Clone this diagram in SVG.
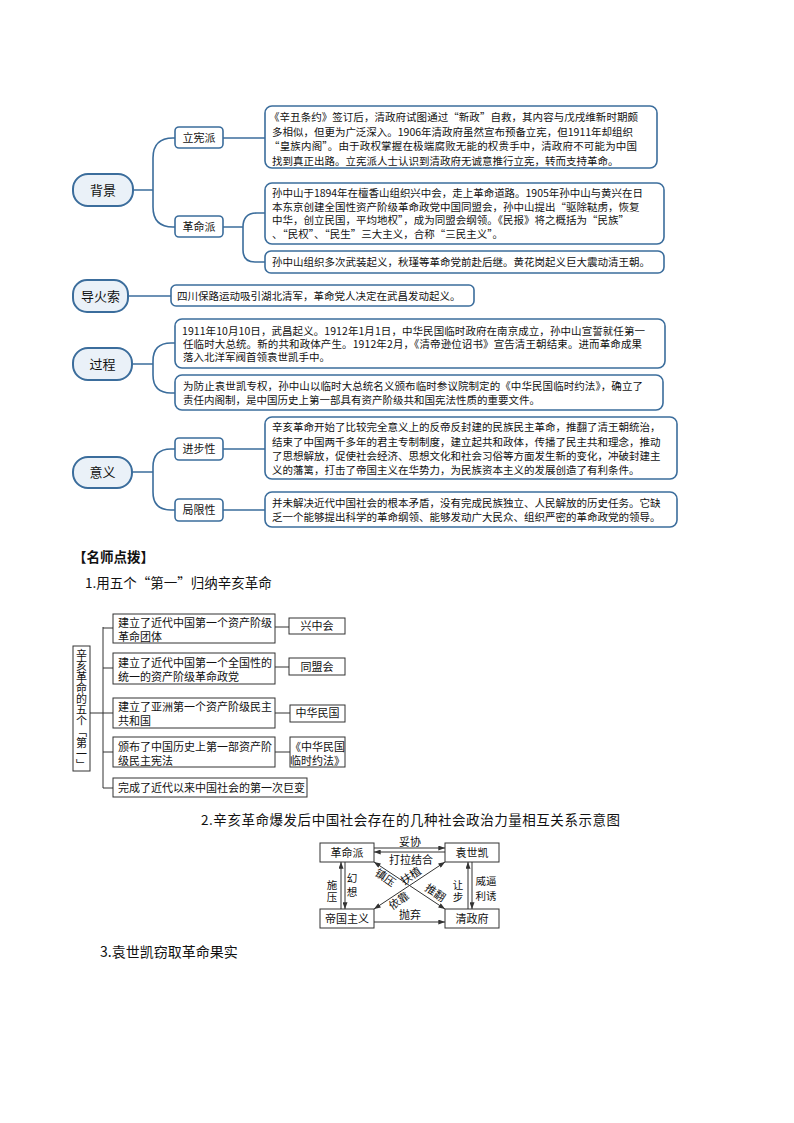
<svg xmlns="http://www.w3.org/2000/svg" width="794" height="1123" viewBox="0 0 794 1123">
<defs>
<marker id="ah" viewBox="0 0 8 6" refX="8" refY="3" markerWidth="7" markerHeight="5" markerUnits="userSpaceOnUse" orient="auto-start-reverse"><path d="M0,0 L8,3 L0,6 z" fill="#333"/></marker>
</defs>
<style>
.mm{font-family:"Noto Sans CJK SC","Microsoft YaHei",sans-serif;fill:#111}
.t{font-size:10.5px}
.nd{font-size:13px;text-anchor:middle}
.sb{font-size:11px;text-anchor:middle}
.node{fill:#eaf1f8;stroke:#3b6d9c;stroke-width:2}
.box{fill:#fff;stroke:#3b6d9c;stroke-width:1.6}
.con{fill:none;stroke:#3b6d9c;stroke-width:1.6}
.ff{font-family:"Noto Sans CJK SC",sans-serif;font-size:11px;fill:#111}
.fc{text-anchor:middle}
.vs{font-size:10.5px}
.vt{writing-mode:vertical-rl}
.fb{fill:#fff;stroke:#333;stroke-width:1}
.fl{fill:none;stroke:#333;stroke-width:1}
.rl{fill:none;stroke:#333;stroke-width:1;marker-end:url(#ah)}
.rb{fill:none;stroke:#333;stroke-width:1;marker-end:url(#ah);marker-start:url(#ah)}
.hd{font-family:"Noto Sans CJK SC",sans-serif;fill:#111}
</style>
<rect width="794" height="1123" fill="#fff"/>

<g id="connectors">
  <path class="con" d="M133,190 H153 M153,190 V158 Q153,138 173,138 H175 M153,190 V207 Q153,227 173,227 H175"/>
  <path class="con" d="M223,138 H265"/>
  <path class="con" d="M223,227 H243 M243,227 Q243,213 257,213 H265 M243,227 V250 Q243,262 255,262 H265"/>
  <path class="con" d="M128,296 H171"/>
  <path class="con" d="M132,364 H153 M153,364 V361 Q153,343 171,343 H175 M153,364 V375 Q153,393 171,393 H175"/>
  <path class="con" d="M132,472 H153 M153,472 V467 Q153,449 171,449 H175 M153,472 V492 Q153,510 171,510 H175"/>
  <path class="con" d="M223,449 H265 M223,510 H265"/>
  <path class="fl" d="M90,713 H103 M103,627 V788 M103,628 H113 M103,668 H113 M103,713 H113 M103,752 H113 M103,788 H113"/>
  <path class="fl" d="M275,627 H289 M275,667 H289 M275,713 H290 M275,752 H290"/>
  <path class="rl" d="M374,848 H445"/>
  <path class="rl" d="M445,852 H374"/>
  <path class="rl" d="M341,909 V862"/>
  <path class="rl" d="M345,862 V909"/>
  <path class="rl" d="M468,909 V862"/>
  <path class="rl" d="M472,862 V909"/>
  <path class="rb" d="M374,862 L445,909"/>
  <path class="rb" d="M374,909 L445,862"/>
  <path class="rl" d="M374,922 H445"/>
</g>

<g id="bg">
  <rect class="node" x="73" y="174" width="60" height="32" rx="15"/>
  <text class="mm nd" x="103" y="194.5">背景</text>
</g>
<g id="lxp">
  <rect class="box" x="175" y="127" width="48" height="21" rx="4"/>
  <text class="mm sb" x="199" y="142">立宪派</text>
</g>
<g id="gmp">
  <rect class="box" x="175" y="216" width="48" height="21" rx="4"/>
  <text class="mm sb" x="199" y="231">革命派</text>
</g>
<g id="box1">
  <rect class="box" x="265" y="106" width="392" height="62" rx="7"/>
  <text class="mm t" x="269" y="121" textLength="369">《辛丑条约》签订后，清政府试图通过“新政”自救，其内容与戊戌维新时期颇</text>
  <text class="mm t" x="272" y="135.5" textLength="361">多相似，但更为广泛深入。1906年清政府虽然宣布预备立宪，但1911年却组织</text>
  <text class="mm t" x="269" y="150" textLength="368">“皇族内阁”。由于政权掌握在极端腐败无能的权贵手中，清政府不可能为中国</text>
  <text class="mm t" x="272" y="164.5">找到真正出路。立宪派人士认识到清政府无诚意推行立宪，转而支持革命。</text>
</g>
<g id="box2">
  <rect class="box" x="265" y="183" width="399" height="61" rx="7"/>
  <text class="mm t" x="272" y="197" textLength="371">孙中山于1894年在檀香山组织兴中会，走上革命道路。1905年孙中山与黄兴在日</text>
  <text class="mm t" x="272" y="210.5">本东京创建全国性资产阶级革命政党中国同盟会，孙中山提出“驱除鞑虏，恢复</text>
  <text class="mm t" x="272" y="224">中华，创立民国，平均地权”，成为同盟会纲领。《民报》将之概括为“民族”</text>
  <text class="mm t" x="272" y="237.5">、“民权”、“民生”三大主义，合称“三民主义”。</text>
</g>
<g id="box3">
  <rect class="box" x="265" y="251" width="399" height="22" rx="6"/>
  <text class="mm t" x="272" y="266">孙中山组织多次武装起义，秋瑾等革命党前赴后继。黄花岗起义巨大震动清王朝。</text>
</g>
<g id="dhs">
  <rect class="node" x="73" y="280" width="55" height="32" rx="14"/>
  <text class="mm nd" x="100.5" y="300.5">导火索</text>
</g>
<g id="box-dhs">
  <rect class="box" x="171" y="285" width="303" height="21" rx="5"/>
  <text class="mm t" x="177" y="300">四川保路运动吸引湖北清军，革命党人决定在武昌发动起义。</text>
</g>
<g id="gc">
  <rect class="node" x="73" y="348" width="59" height="32" rx="15"/>
  <text class="mm nd" x="102.5" y="368.5">过程</text>
</g>
<g id="box4">
  <rect class="box" x="175" y="319" width="490" height="49" rx="7"/>
  <text class="mm t" x="182" y="335" textLength="463">1911年10月10日，武昌起义。1912年1月1日，中华民国临时政府在南京成立，孙中山宣誓就任第一</text>
  <text class="mm t" x="183" y="348" textLength="459">任临时大总统。新的共和政体产生。1912年2月，《清帝逊位诏书》宣告清王朝结束。进而革命成果</text>
  <text class="mm t" x="183" y="361">落入北洋军阀首领袁世凯手中。</text>
</g>
<g id="box5">
  <rect class="box" x="175" y="375" width="488" height="35" rx="7"/>
  <text class="mm t" x="183" y="390" textLength="460">为防止袁世凯专权，孙中山以临时大总统名义颁布临时参议院制定的《中华民国临时约法》，确立了</text>
  <text class="mm t" x="183" y="403.5">责任内阁制，是中国历史上第一部具有资产阶级共和国宪法性质的重要文件。</text>
</g>
<g id="yy">
  <rect class="node" x="73" y="457" width="59" height="31" rx="15"/>
  <text class="mm nd" x="102.5" y="477">意义</text>
</g>
<g id="jbx">
  <rect class="box" x="175" y="438" width="48" height="22" rx="4"/>
  <text class="mm sb" x="199" y="453">进步性</text>
</g>
<g id="jxx">
  <rect class="box" x="175" y="499" width="48" height="22" rx="4"/>
  <text class="mm sb" x="199" y="514">局限性</text>
</g>
<g id="box6">
  <rect class="box" x="265" y="417" width="412" height="62" rx="7"/>
  <text class="mm t" x="272" y="431">辛亥革命开始了比较完全意义上的反帝反封建的民族民主革命，推翻了清王朝统治，</text>
  <text class="mm t" x="272" y="445.5">结束了中国两千多年的君主专制制度，建立起共和政体，传播了民主共和理念，推动</text>
  <text class="mm t" x="272" y="460">了思想解放，促使社会经济、思想文化和社会习俗等方面发生新的变化，冲破封建主</text>
  <text class="mm t" x="272" y="474">义的藩篱，打击了帝国主义在华势力，为民族资本主义的发展创造了有利条件。</text>
</g>
<g id="box7">
  <rect class="box" x="265" y="492" width="412" height="35" rx="7"/>
  <text class="mm t" x="272" y="507">并未解决近代中国社会的根本矛盾，没有完成民族独立、人民解放的历史任务。它缺</text>
  <text class="mm t" x="272" y="521">乏一个能够提出科学的革命纲领、能够发动广大民众、组织严密的革命政党的领导。</text>
</g>

<g id="headings">
  <text class="hd" x="73" y="562" font-size="13.5" font-weight="bold">【名师点拨】</text>
  <text class="hd" x="85" y="588" font-size="13.5">1.用五个“第一”归纳辛亥革命</text>
  <text class="hd" x="201" y="825" font-size="13.5" textLength="419">2.辛亥革命爆发后中国社会存在的几种社会政治力量相互关系示意图</text>
  <text class="hd" x="100" y="957" font-size="14">3.袁世凯窃取革命果实</text>
</g>

<g id="ff-root">
  <rect class="fb" x="73" y="646" width="17" height="125"/>
  <text class="ff vt" x="81.5" y="649">辛亥革命的五个「第一」</text>
</g>
<g id="ff1">
  <rect class="fb" x="113" y="614" width="162" height="29"/>
  <text class="ff" x="118" y="627">建立了近代中国第一个资产阶级</text>
  <text class="ff" x="118" y="641">革命团体</text>
</g>
<g id="ff1r">
  <rect class="fb" x="289" y="618" width="56" height="16"/>
  <text class="ff fc" x="317" y="630">兴中会</text>
</g>
<g id="ff2">
  <rect class="fb" x="113" y="653" width="162" height="31"/>
  <text class="ff" x="118" y="667">建立了近代中国第一个全国性的</text>
  <text class="ff" x="118" y="681">统一的资产阶级革命政党</text>
</g>
<g id="ff2r">
  <rect class="fb" x="289" y="658" width="56" height="17"/>
  <text class="ff fc" x="317" y="671">同盟会</text>
</g>
<g id="ff3">
  <rect class="fb" x="113" y="698" width="162" height="30"/>
  <text class="ff" x="118" y="710.5">建立了亚洲第一个资产阶级民主</text>
  <text class="ff" x="118" y="724.5">共和国</text>
</g>
<g id="ff3r">
  <rect class="fb" x="290" y="705" width="55" height="17"/>
  <text class="ff fc" x="317.5" y="717">中华民国</text>
</g>
<g id="ff4">
  <rect class="fb" x="113" y="737" width="162" height="30"/>
  <text class="ff" x="118" y="750.5">颁布了中国历史上第一部资产阶</text>
  <text class="ff" x="118" y="764.5">级民主宪法</text>
</g>
<g id="ff4r">
  <rect class="fb" x="290" y="737" width="55" height="30"/>
  <text class="ff fc" x="317.5" y="750.5">《中华民国</text>
  <text class="ff fc" x="317.5" y="764.5">临时约法》</text>
</g>
<g id="ff5">
  <rect class="fb" x="113" y="778" width="194" height="19"/>
  <text class="ff" x="118" y="792">完成了近代以来中国社会的第一次巨变</text>
</g>

<g id="r-gmp">
  <rect class="fb" x="320" y="843" width="54" height="19"/>
  <text class="ff fc" x="347" y="857" font-size="12">革命派</text>
</g>
<g id="r-ysk">
  <rect class="fb" x="445" y="843" width="54" height="19"/>
  <text class="ff fc" x="472" y="857" font-size="12">袁世凯</text>
</g>
<g id="r-dgzy">
  <rect class="fb" x="320" y="909" width="54" height="19"/>
  <text class="ff fc" x="347" y="923" font-size="12">帝国主义</text>
</g>
<g id="r-qzf">
  <rect class="fb" x="445" y="909" width="54" height="19"/>
  <text class="ff fc" x="472" y="923" font-size="12">清政府</text>
</g>
<g id="r-labels" class="ff fc">
  <text x="410" y="846">妥协</text>
  <text x="411" y="864">打拉结合</text>
  <text x="410" y="919">抛弃</text>
  <text class="vs vt" x="332" y="879.5" style="text-anchor:start;letter-spacing:1.5px">施压</text>
  <text class="vs vt" x="352" y="873" style="text-anchor:start;letter-spacing:3px">幻想</text>
  <text class="vs vt" x="458" y="880" style="text-anchor:start;letter-spacing:1.5px">让步</text>
  <text class="vs" x="486" y="885">威逼</text>
  <text class="vs" x="486" y="899.5">利诱</text>
  <text transform="translate(383,881) rotate(34)">镇压</text>
  <text transform="translate(413,879) rotate(-34)">扶植</text>
  <text transform="translate(433,896) rotate(34)">推翻</text>
  <text transform="translate(401,904) rotate(-34)">依靠</text>
</g>
</svg>
